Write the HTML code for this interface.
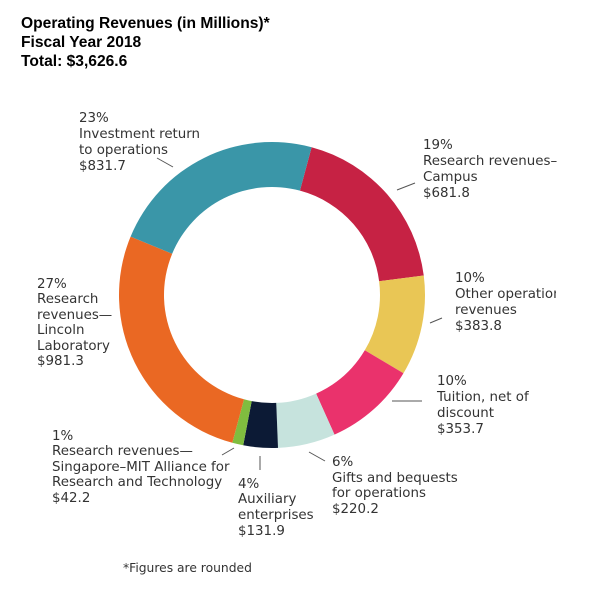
<!DOCTYPE html>
<html><head><meta charset="utf-8"><style>
html,body{margin:0;padding:0;background:#fff;width:600px;height:596px;overflow:hidden}
svg text{font-family:"DejaVu Sans",Verdana,sans-serif;font-size:13.4px;fill:#333}
svg text.t{font-family:"Liberation Sans",Arial,sans-serif;font-weight:bold;font-size:15.6px;fill:#000}
</style></head><body>
<svg id="s" width="600" height="596" xmlns="http://www.w3.org/2000/svg">
<defs><clipPath id="c"><rect x="0" y="0" width="556" height="596"/></clipPath></defs>
<text class="t" x="21" y="28">Operating Revenues (in Millions)*</text>
<text class="t" x="21" y="47">Fiscal Year 2018</text>
<text class="t" x="21" y="66">Total: $3,626.6</text>
<g id="arcs"></g>
<g stroke="#555" stroke-width="1">
<line x1="157" y1="158" x2="173" y2="167"/>
<line x1="397" y1="190" x2="415" y2="183"/>
<line x1="430" y1="323" x2="442" y2="318"/>
<line x1="392" y1="401" x2="422" y2="401"/>
<line x1="222" y1="455" x2="234" y2="448"/>
<line x1="260" y1="456" x2="260" y2="470"/>
<line x1="309" y1="452" x2="325" y2="461"/>
</g>
<text x="79" y="122">23%</text><text x="79" y="138">Investment return</text><text x="79" y="154">to operations</text><text x="79" y="170">$831.7</text>
<text x="423" y="149">19%</text><text x="423" y="165">Research revenues–</text><text x="423" y="181">Campus</text><text x="423" y="197">$681.8</text>
<g clip-path="url(#c)"><text x="455" y="282">10%</text><text x="455" y="298">Other operations</text><text x="455" y="314">revenues</text><text x="455" y="330">$383.8</text></g>
<text x="437" y="385">10%</text><text x="437" y="401">Tuition, net of</text><text x="437" y="417">discount</text><text x="437" y="433">$353.7</text>
<text x="37" y="288">27%</text><text x="37" y="303">Research</text><text x="37" y="319">revenues—</text><text x="37" y="334">Lincoln</text><text x="37" y="350">Laboratory</text><text x="37" y="365">$981.3</text>
<text x="52" y="440">1%</text><text x="52" y="455">Research revenues—</text><text x="52" y="471">Singapore–MIT Alliance for</text><text x="52" y="486">Research and Technology</text><text x="52" y="502">$42.2</text>
<text x="238" y="488">4%</text><text x="238" y="503">Auxiliary</text><text x="238" y="519">enterprises</text><text x="238" y="535">$131.9</text>
<text x="332" y="466">6%</text><text x="332" y="482">Gifts and bequests</text><text x="332" y="497">for operations</text><text x="332" y="513">$220.2</text>
<text x="123" y="572" style="font-size:12.3px">*Figures are rounded</text>
</svg>
<script>
var cx=272,cy=295,R=153,r=108;
var d=[[681.8,"#c62244"],[383.8,"#e9c655"],[353.7,"#ea326c"],[220.2,"#c6e3dd"],[131.9,"#0c1a35"],[42.2,"#80bd3f"],[981.3,"#ea6823"],[831.7,"#3a96a8"]];
var tot=3626.6,a=15,g=document.getElementById("arcs"),h="";
function p(rad,deg){var t=(deg-90)*Math.PI/180;return (cx+rad*Math.cos(t)).toFixed(2)+","+(cy+rad*Math.sin(t)).toFixed(2);}
d.forEach(function(s){var b=a+s[0]/tot*360,l=(b-a)>180?1:0;
h+='<path fill="'+s[1]+'" d="M'+p(R,a)+' A'+R+','+R+' 0 '+l+' 1 '+p(R,b)+' L'+p(r,b)+' A'+r+','+r+' 0 '+l+' 0 '+p(r,a)+' Z"/>';a=b;});
g.innerHTML=h;
</script>
</body></html>
